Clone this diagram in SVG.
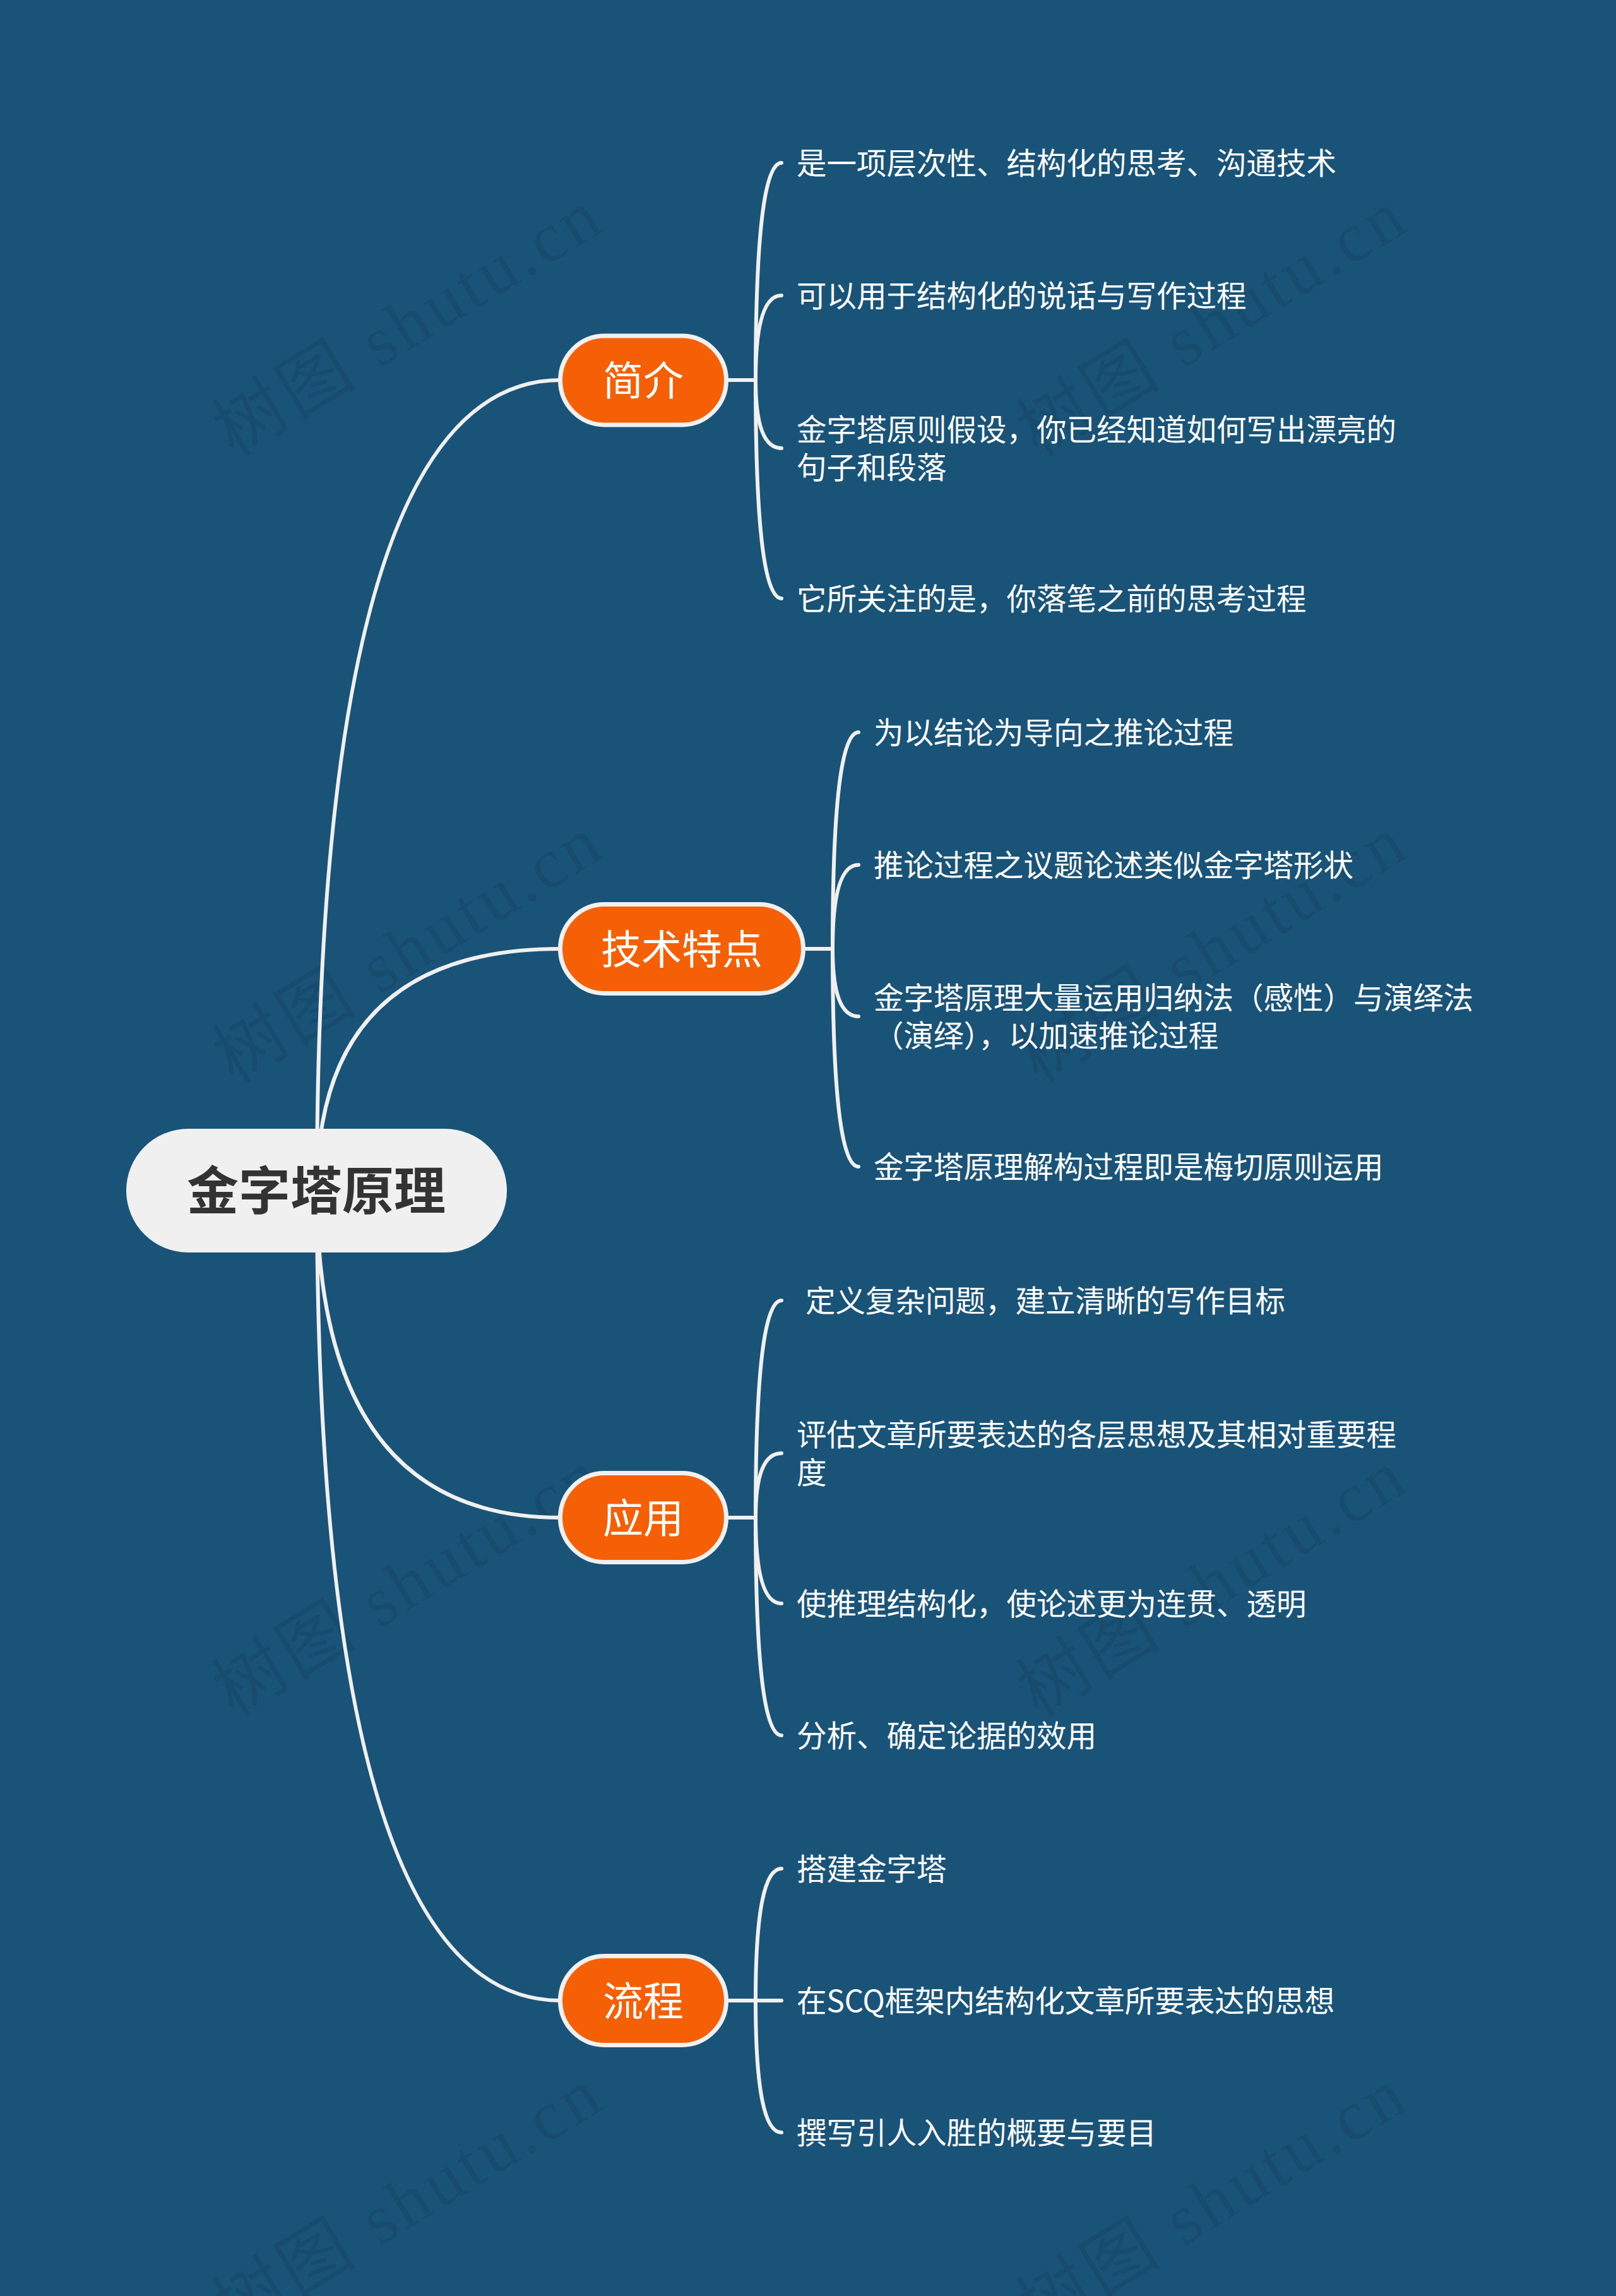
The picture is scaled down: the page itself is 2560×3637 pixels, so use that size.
<svg xmlns="http://www.w3.org/2000/svg" width="2560" height="3637" viewBox="0 0 2560 3637">
<style>
.bg{fill:#1a5378}
.wm{font-family:"Liberation Serif","Noto Sans CJK SC",serif;font-size:112px;fill:#000;fill-opacity:0.08}
.link{fill:none;stroke:#f0f0f0;stroke-width:6;stroke-linecap:round}
.main rect{fill:#f55f05;stroke:#f0f0f0;stroke-width:7}
.main text{font-family:"Noto Sans CJK SC","Microsoft YaHei",sans-serif;font-size:64px;fill:#ffffff;text-anchor:middle}
.root rect{fill:#f0f0f0}
.root text{font-family:"Noto Sans CJK SC","Microsoft YaHei",sans-serif;font-size:82px;font-weight:bold;fill:#333333;text-anchor:middle}
.leaf text{font-family:"Noto Sans CJK SC","Microsoft YaHei",sans-serif;font-size:47.5px;fill:#ffffff}
</style>
<rect class="bg" x="0" y="0" width="2560" height="3637"/>
<g id="watermarks">
<text class="wm" x="646" y="550" text-anchor="middle" textLength="690" transform="rotate(-31.5 646 515)">树图 shutu.cn</text>
<text class="wm" x="1920" y="550" text-anchor="middle" textLength="690" transform="rotate(-31.5 1920 515)">树图 shutu.cn</text>
<text class="wm" x="646" y="1542" text-anchor="middle" textLength="690" transform="rotate(-31.5 646 1507)">树图 shutu.cn</text>
<text class="wm" x="1920" y="1542" text-anchor="middle" textLength="690" transform="rotate(-31.5 1920 1507)">树图 shutu.cn</text>
<text class="wm" x="646" y="2546" text-anchor="middle" textLength="690" transform="rotate(-31.5 646 2511)">树图 shutu.cn</text>
<text class="wm" x="1920" y="2546" text-anchor="middle" textLength="690" transform="rotate(-31.5 1920 2511)">树图 shutu.cn</text>
<text class="wm" x="646" y="3525" text-anchor="middle" textLength="690" transform="rotate(-31.5 646 3490)">树图 shutu.cn</text>
<text class="wm" x="1920" y="3525" text-anchor="middle" textLength="690" transform="rotate(-31.5 1920 3490)">树图 shutu.cn</text>
</g>
<g id="connectors">
<path class="link" d="M 502 1886 Q 502 602 888 602"/>
<path class="link" d="M 502 1886 Q 502 1503 888 1503"/>
<path class="link" d="M 502 1886 Q 502 2404 888 2404"/>
<path class="link" d="M 502 1886 Q 502 3169 888 3169"/>
<path class="link" d="M 1150 602 L 1197 602 Q 1197 258 1238 258"/>
<path class="link" d="M 1197 602 Q 1197 468 1238 468"/>
<path class="link" d="M 1197 602 Q 1197 710 1238 710"/>
<path class="link" d="M 1197 602 Q 1197 948 1238 948"/>
<path class="link" d="M 1272 1503 L 1319 1503 Q 1319 1160 1360 1160"/>
<path class="link" d="M 1319 1503 Q 1319 1370 1360 1370"/>
<path class="link" d="M 1319 1503 Q 1319 1610 1360 1610"/>
<path class="link" d="M 1319 1503 Q 1319 1848 1360 1848"/>
<path class="link" d="M 1150 2404 L 1197 2404 Q 1197 2060 1238 2060"/>
<path class="link" d="M 1197 2404 Q 1197 2302 1238 2302"/>
<path class="link" d="M 1197 2404 Q 1197 2540 1238 2540"/>
<path class="link" d="M 1197 2404 Q 1197 2749 1238 2749"/>
<path class="link" d="M 1150 3169 L 1197 3169 Q 1197 2960 1238 2960"/>
<path class="link" d="M 1197 3169 L 1238 3169"/>
<path class="link" d="M 1197 3169 Q 1197 3378 1238 3378"/>
</g>
<g id="root" class="root">
<rect x="200" y="1788" width="603" height="196" rx="98" ry="98"/>
<text x="501" y="1916">金字塔原理</text>
</g>
<g id="n-jianjie" class="main">
<rect x="887.5" y="532" width="263" height="141" rx="70.5" ry="70.5"/>
<text x="1019" y="626">简介</text>
</g>
<g id="n-jishu" class="main">
<rect x="887.5" y="1432.5" width="385" height="141" rx="70.5" ry="70.5"/>
<text x="1080" y="1527">技术特点</text>
</g>
<g id="n-yingyong" class="main">
<rect x="887.5" y="2333.5" width="263" height="141" rx="70.5" ry="70.5"/>
<text x="1019" y="2428">应用</text>
</g>
<g id="n-liucheng" class="main">
<rect x="887.5" y="3098.5" width="263" height="141" rx="70.5" ry="70.5"/>
<text x="1019" y="3193">流程</text>
</g>
<g id="l-1-1" class="leaf"><text x="1262" y="276">是一项层次性、结构化的思考、沟通技术</text></g>
<g id="l-1-2" class="leaf"><text x="1262" y="486">可以用于结构化的说话与写作过程</text></g>
<g id="l-1-3" class="leaf"><text x="1262" y="698">金字塔原则假设，你已经知道如何写出漂亮的</text><text x="1262" y="758">句子和段落</text></g>
<g id="l-1-4" class="leaf"><text x="1262" y="966">它所关注的是，你落笔之前的思考过程</text></g>
<g id="l-2-1" class="leaf"><text x="1384" y="1178">为以结论为导向之推论过程</text></g>
<g id="l-2-2" class="leaf"><text x="1384" y="1388">推论过程之议题论述类似金字塔形状</text></g>
<g id="l-2-3" class="leaf"><text x="1384" y="1598">金字塔原理大量运用归纳法（感性）与演绎法</text><text x="1384" y="1658">（演绎），以加速推论过程</text></g>
<g id="l-2-4" class="leaf"><text x="1384" y="1866">金字塔原理解构过程即是梅切原则运用</text></g>
<g id="l-3-1" class="leaf"><text x="1276" y="2078">定义复杂问题，建立清晰的写作目标</text></g>
<g id="l-3-2" class="leaf"><text x="1262" y="2290">评估文章所要表达的各层思想及其相对重要程</text><text x="1262" y="2350">度</text></g>
<g id="l-3-3" class="leaf"><text x="1262" y="2558">使推理结构化，使论述更为连贯、透明</text></g>
<g id="l-3-4" class="leaf"><text x="1262" y="2767">分析、确定论据的效用</text></g>
<g id="l-4-1" class="leaf"><text x="1262" y="2978">搭建金字塔</text></g>
<g id="l-4-2" class="leaf"><text x="1262" y="3187">在SCQ框架内结构化文章所要表达的思想</text></g>
<g id="l-4-3" class="leaf"><text x="1262" y="3396">撰写引人入胜的概要与要目</text></g>
</svg>
